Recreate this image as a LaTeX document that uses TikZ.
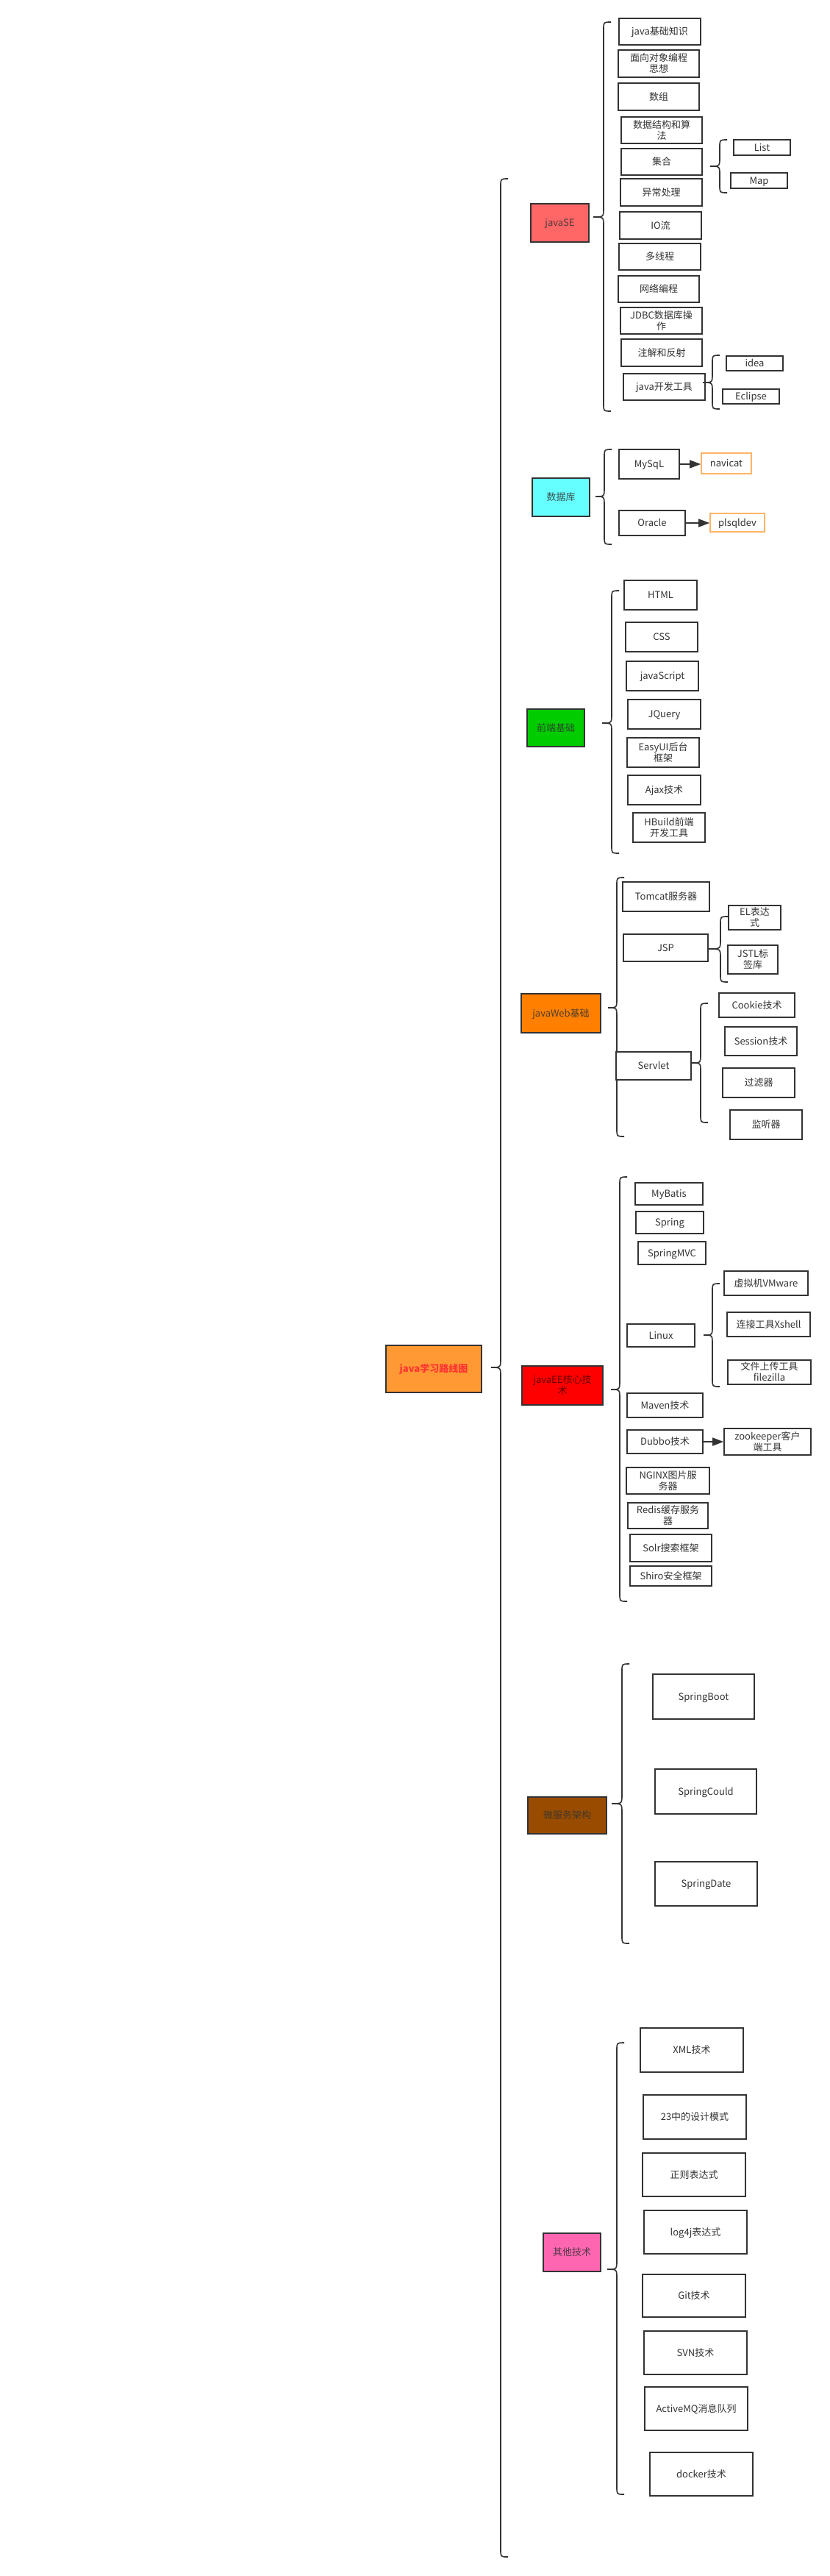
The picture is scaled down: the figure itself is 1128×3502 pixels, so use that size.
\documentclass[tikz,border=0pt]{standalone}
\usepackage{fontspec}
\setmainfont{Noto Sans CJK SC}
\usetikzlibrary{arrows.meta}
\definecolor{ln}{HTML}{333333}
\definecolor{cSE}{HTML}{FF6666}
\definecolor{cDB}{HTML}{66FFFF}
\definecolor{cFE}{HTML}{00CC00}
\definecolor{cWEB}{HTML}{FF8000}
\definecolor{cEE}{HTML}{FF0000}
\definecolor{cMS}{HTML}{994C00}
\definecolor{cOT}{HTML}{FF66B2}
\definecolor{cROOT}{HTML}{FF9933}
\definecolor{cTITLE}{HTML}{FF3333}
\definecolor{cOR}{HTML}{FFB366}
\newcommand{\mybrace}[5]{% x, top, tipy, bottom, tipx
\draw[brc] ({#1+10},#2) .. controls (#1,#2) .. (#1,{#2+10}) -- (#1,{#3-12}) .. controls (#1,#3) .. (#5,#3) .. controls (#1,#3) .. (#1,{#3+12}) -- (#1,{#4-10}) .. controls (#1,#4) .. ({#1+10},#4);}
\newcommand{\twol}[2]{\vbox{\baselineskip=15pt\halign{\hfil##\hfil\cr #1\cr #2\cr}}}
\newcommand{\bxn}[7][]{\node[bx,#1,minimum width={(#5-#3)*1pt},minimum height={(#6-#4)*1pt}] (#2) at ({(#3+#5)/2},{(#4+#6)/2}) {#7};}
\begin{document}
\begin{tikzpicture}[x=1pt,y=-1pt,
  every node/.style={font=\fontsize{13}{15}\selectfont, text=ln},
  bx/.style={draw=ln, line width=1.6pt, fill=white, inner sep=0pt, text height=10pt, text depth=1pt},
  bxt/.style={text height=25pt, text depth=1pt},
  obx/.style={draw=cOR},
  cbx/.style={text opacity=0.85},
  brc/.style={draw=ln, line width=1.6pt},
  arr/.style={draw=ln, line width=1.6pt, -{Triangle[length=15pt,width=11pt]}}]
\useasboundingbox[fill=white] (0,0) rectangle (1128,3502);

% root
\bxn[fill=cROOT, font=\fontsize{13}{15}\selectfont\bfseries, text=cTITLE]{root}{525}{1829}{655}{1893}{java学习路线图}
\mybrace{681}{243}{1859}{3476}{668}

% javaSE
\bxn[cbx, fill=cSE]{se}{722}{277}{801}{329}{javaSE}
\mybrace{821}{30}{295}{559}{807}
\bxn{se1}{842}{25}{953}{61}{java基础知识}
\bxn[bxt]{se2}{841}{68}{951}{105}{\twol{面向对象编程}{思想}}
\bxn{se3}{841}{113}{951}{150}{数组}
\bxn[bxt]{se4}{845}{159}{955}{195}{\twol{数据结构和算}{法}}
\bxn{se5}{845}{202}{955}{238}{集合}
\bxn{se6}{844}{243}{955}{280}{异常处理}
\bxn{se7}{843}{288}{954}{325}{IO流}
\bxn{se8}{842}{331}{953}{367}{多线程}
\bxn{se9}{841}{375}{951}{411}{网络编程}
\bxn[bxt]{se10}{844}{418}{955}{454}{\twol{JDBC数据库操}{作}}
\bxn{se11}{845}{461}{955}{498}{注解和反射}
\bxn{se12}{848}{508}{959}{544}{java开发工具}
\mybrace{979}{190}{226}{262}{966}
\bxn{list}{998}{190}{1075}{211}{List}
\bxn{map}{994}{235}{1071}{256}{Map}
\mybrace{969}{483}{520}{556}{956}
\bxn{idea}{988}{484}{1065}{504}{idea}
\bxn{eclipse}{983}{529}{1060}{549}{Eclipse}

% database
\bxn[cbx, fill=cDB]{db}{724}{650}{802}{702}{数据库}
\mybrace{822}{611}{675}{740}{810}
\bxn{mysql}{842}{611}{924}{651}{MySqL}
\bxn{oracle}{842}{694}{932}{728}{Oracle}
\bxn[obx]{navicat}{954}{616}{1022}{644}{navicat}
\bxn[obx]{plsql}{966}{698}{1040}{723}{plsqldev}
\draw[arr] (mysql.east) -- (mysql.east -| navicat.west);
\draw[arr] (oracle.east) -- (oracle.east -| plsql.west);

% front end
\bxn[cbx, fill=cFE]{fe}{717}{964}{795}{1015}{前端基础}
\mybrace{832}{803}{983}{1160}{819}
\bxn{html}{849}{789}{948}{829}{HTML}
\bxn{css}{851}{846}{949}{886}{CSS}
\bxn{js}{852}{899}{950}{939}{javaScript}
\bxn{jq}{854}{951}{953}{991}{JQuery}
\bxn[bxt]{easyui}{853}{1003}{951}{1043}{\twol{EasyUI后台}{框架}}
\bxn{ajax}{854}{1054}{953}{1094}{Ajax技术}
\bxn[bxt]{hb}{861}{1105}{959}{1145}{\twol{HBuild前端}{开发工具}}

% javaWeb
\bxn[cbx, fill=cWEB]{web}{709}{1351}{817}{1404}{javaWeb基础}
\mybrace{839}{1193}{1370}{1545}{827}
\bxn{tomcat}{847}{1199}{965}{1239}{Tomcat服务器}
\bxn{jsp}{848}{1270}{963}{1307}{JSP}
\mybrace{980}{1246}{1290}{1335}{964}
\bxn[bxt]{el}{991}{1231}{1062}{1264}{\twol{EL表达}{式}}
\bxn[bxt]{jstl}{990}{1285}{1058}{1324}{\twol{JSTL标}{签库}}
\bxn{servlet}{838}{1430}{940}{1468}{Servlet}
\mybrace{953}{1364}{1445}{1526}{941}
\bxn{cookie}{978}{1350}{1081}{1383}{Cookie技术}
\bxn{session}{986}{1396}{1084}{1435}{Session技术}
\bxn{filter}{983}{1452}{1081}{1492}{过滤器}
\bxn{listener}{993}{1509}{1091}{1549}{监听器}

% javaEE
\bxn[cbx, bxt, fill=cEE, text=black!70!red]{ee}{710}{1857}{820}{1910}{\twol{javaEE核心技}{术}}
\mybrace{843}{1600}{1889}{2177}{831}
\bxn{mybatis}{864}{1608}{956}{1638}{MyBatis}
\bxn{spring}{865}{1647}{957}{1677}{Spring}
\bxn{springmvc}{868}{1688}{960}{1719}{SpringMVC}
\bxn{linux}{853}{1800}{945}{1831}{Linux}
\mybrace{969}{1745}{1815}{1885}{957}
\bxn{vmware}{985}{1728}{1099}{1761}{虚拟机VMware}
\bxn{xshell}{989}{1784}{1102}{1817}{连接工具Xshell}
\bxn[bxt]{filezilla}{990}{1849}{1103}{1882}{\twol{文件上传工具}{filezilla}}
\bxn{maven}{853}{1894}{956}{1927}{Maven技术}
\bxn{dubbo}{853}{1944}{956}{1976}{Dubbo技术}
\bxn[bxt]{zk}{985}{1942}{1103}{1978}{\twol{zookeeper客户}{端工具}}
\draw[arr] (dubbo.east) -- (dubbo.east -| zk.west);
\bxn[bxt]{nginx}{852}{1995}{965}{2031}{\twol{NGINX图片服}{务器}}
\bxn[bxt]{redis}{854}{2043}{963}{2078}{\twol{Redis缓存服务}{器}}
\bxn{solr}{857}{2086}{968}{2123}{Solr搜索框架}
\bxn{shiro}{857}{2129}{968}{2156}{Shiro安全框架}

% micro services
\bxn[cbx, fill=cMS]{ms}{718}{2443}{825}{2493}{微服务架构}
\mybrace{846}{2262}{2452}{2642}{832}
\bxn{boot}{888}{2276}{1026}{2337}{SpringBoot}
\bxn{could}{891}{2405}{1029}{2466}{SpringCould}
\bxn{date}{891}{2531}{1030}{2591}{SpringDate}

% others
\bxn[cbx, fill=cOT]{ot}{739}{3036}{817}{3088}{其他技术}
\mybrace{839}{2777}{3085}{3391}{826}
\bxn{xml}{871}{2757}{1011}{2817}{XML技术}
\bxn{dp}{875}{2848}{1015}{2908}{23中的设计模式}
\bxn{regex}{874}{2927}{1014}{2986}{正则表达式}
\bxn{log4j}{876}{3005}{1016}{3064}{log4j表达式}
\bxn{git}{874}{3092}{1014}{3150}{Git技术}
\bxn{svn}{876}{3169}{1016}{3228}{SVN技术}
\bxn{mq}{877}{3245}{1017}{3304}{ActiveMQ消息队列}
\bxn{docker}{884}{3334}{1024}{3393}{docker技术}
\end{tikzpicture}
\end{document}
